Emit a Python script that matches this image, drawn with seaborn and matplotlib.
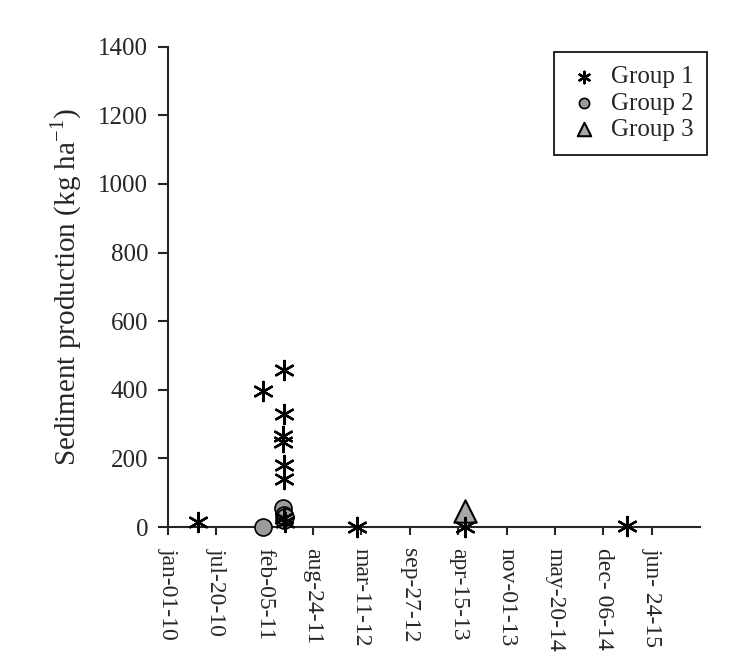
import pandas as pd
import matplotlib
matplotlib.use("Agg")
import matplotlib.pyplot as plt
import seaborn as sns

# data
g1_dates = ["2010-05-05", "2011-01-28", "2011-04-26", "2011-04-28", "2011-04-24",
            "2011-04-24", "2011-04-25", "2011-04-25", "2011-04-28", "2011-04-30",
            "2012-02-22", "2013-05-12", "2015-03-15"]
g1_values = [15, 397, 457, 330, 265, 248, 180, 140, 25, 15, 0, 0, 3]

g2_dates = ["2011-01-28", "2011-04-23", "2011-04-28", "2011-04-26", "2011-05-01"]
g2_values = [0, 55, 35, 20, 30]

g3_dates = ["2013-05-14"]
g3_values = [48]

tick_labels = ["jan-01-10", "jul-20-10", "feb-05-11", "aug-24-11", "mar-11-12",
               "sep-27-12", "apr-15-13", "nov-01-13", "may-20-14", "dec- 06-14",
               "jun- 24-15"]

g1 = pd.DataFrame({"date": pd.to_datetime(g1_dates), "value": g1_values})
g2 = pd.DataFrame({"date": pd.to_datetime(g2_dates), "value": g2_values})
g3 = pd.DataFrame({"date": pd.to_datetime(g3_dates), "value": g3_values})

sns.set_style("ticks")
plt.rcParams["font.family"] = ["Liberation Serif", "DejaVu Serif"]
plt.rcParams["mathtext.fontset"] = "custom"
plt.rcParams["mathtext.rm"] = "Liberation Serif"

fig = plt.figure(figsize=(7.49, 6.68), dpi=100)
ax = fig.add_axes([0.224, 0.211, 0.711, 0.719])

sns.scatterplot(data=g2, x="date", y="value", ax=ax, marker="o", s=150,
                color="#9a9a9a", edgecolor="black", linewidth=1.2,
                label="Group 2", clip_on=False, zorder=3)
sns.scatterplot(data=g3, x="date", y="value", ax=ax, marker="^", s=260,
                color="#a8a8a8", edgecolor="black", linewidth=1.5,
                label="Group 3", clip_on=False, zorder=3)
sns.scatterplot(data=g1, x="date", y="value", ax=ax, marker=(6, 2, 0), s=190,
                color="black", edgecolor="black", linewidth=1.7,
                label="Group 1", clip_on=False, zorder=4)

tick_pos = pd.date_range("2010-01-01", periods=len(tick_labels), freq="200D")
ax.set_xticks(tick_pos)
ax.set_xticklabels(tick_labels, rotation=270, fontsize=17)
ax.set_xlim(pd.Timestamp("2010-01-01"), pd.Timestamp("2016-01-10"))
ax.set_ylim(0, 1400)
ax.set_yticks(range(0, 1401, 200))
ax.tick_params(axis="y", labelsize=18, width=1.5, length=7, pad=7)
ax.tick_params(axis="x", width=1.5, length=6, pad=9)
ax.set_xlabel("")
ax.set_ylabel("Sediment production (kg ha$^{\\mathregular{-1}}$)", fontsize=21, labelpad=10)

sns.despine(ax=ax)
for sp in ["left", "bottom"]:
    ax.spines[sp].set_linewidth(1.5)

handles, labels = ax.get_legend_handles_labels()
order = [labels.index(n) for n in ["Group 1", "Group 2", "Group 3"]]
leg = ax.legend([handles[i] for i in order], [labels[i] for i in order],
                loc="upper right", bbox_to_anchor=(0.944, 0.922),
                bbox_transform=fig.transFigure, borderaxespad=0,
                fontsize=18, frameon=True,
                fancybox=False, framealpha=1, edgecolor="black",
                handletextpad=0.4, handlelength=1.3, labelspacing=0.15,
                borderpad=0.55, markerscale=0.6)
leg.get_frame().set_linewidth(1.2)

fig.savefig("out.png", dpi=100)
